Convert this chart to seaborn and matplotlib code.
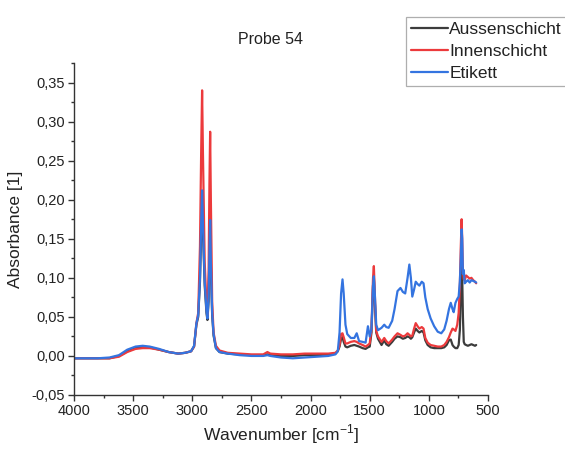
import numpy as np
import pandas as pd
import matplotlib
matplotlib.use("Agg")
import matplotlib.pyplot as plt
from matplotlib.ticker import MultipleLocator, FuncFormatter
from matplotlib.lines import Line2D
import seaborn as sns

# FTIR spectra, sample 54 (absorbance vs. wavenumber)
wavenumber = [
    4000, 3800, 3700, 3620, 3550, 3480, 3420, 3360, 3280, 3200,
    3120, 3060, 3010, 2985, 2965, 2950, 2935, 2925, 2917, 2910,
    2895, 2880, 2872, 2862, 2855, 2849, 2843, 2832, 2820, 2800,
    2770, 2700, 2600, 2500, 2400, 2365, 2340, 2250, 2150, 2050,
    1950, 1850, 1790, 1770, 1755, 1742, 1730, 1720, 1705, 1690,
    1660, 1630, 1610, 1590, 1560, 1535, 1515, 1500, 1485, 1472,
    1465, 1457, 1445, 1430, 1400, 1377, 1360, 1340, 1310, 1290,
    1265, 1240, 1220, 1200, 1180, 1165, 1152, 1140, 1125, 1111,
    1095, 1080, 1060, 1045, 1030, 1010, 985, 955, 925, 895,
    870, 850, 830, 815, 800, 790, 775, 760, 748, 738,
    730, 723, 718, 712, 705, 697, 685, 670, 655, 640,
    625, 610, 600,
]

aussenschicht = [
    -0.003, -0.003, -0.003, 0.000, 0.006, 0.010, 0.011, 0.011, 0.008, 0.005,
    0.003, 0.004, 0.006, 0.012, 0.040, 0.050, 0.095, 0.160, 0.200, 0.160,
    0.090, 0.055, 0.046, 0.070, 0.125, 0.165, 0.115, 0.052, 0.026, 0.010,
    0.005, 0.003, 0.002, 0.001, 0.001, 0.002, 0.001, 0.000, 0.000, 0.001,
    0.001, 0.002, 0.003, 0.006, 0.012, 0.022, 0.024, 0.018, 0.012, 0.011,
    0.013, 0.014, 0.013, 0.012, 0.010, 0.009, 0.011, 0.012, 0.030, 0.090,
    0.100, 0.070, 0.030, 0.022, 0.014, 0.020, 0.015, 0.013, 0.018, 0.022,
    0.025, 0.024, 0.022, 0.023, 0.025, 0.024, 0.022, 0.024, 0.030, 0.035,
    0.032, 0.030, 0.032, 0.030, 0.020, 0.014, 0.011, 0.010, 0.010, 0.010,
    0.011, 0.014, 0.020, 0.021, 0.014, 0.012, 0.010, 0.010, 0.014, 0.033,
    0.080, 0.122, 0.100, 0.050, 0.018, 0.015, 0.014, 0.013, 0.014, 0.015,
    0.014, 0.013, 0.014,
]

innenschicht = [
    -0.003, -0.003, -0.003, -0.001, 0.005, 0.009, 0.010, 0.010, 0.008, 0.005,
    0.003, 0.004, 0.006, 0.012, 0.042, 0.055, 0.140, 0.260, 0.340, 0.260,
    0.120, 0.065, 0.052, 0.110, 0.220, 0.287, 0.200, 0.070, 0.030, 0.013,
    0.007, 0.004, 0.003, 0.002, 0.002, 0.005, 0.003, 0.002, 0.002, 0.003,
    0.003, 0.003, 0.004, 0.007, 0.014, 0.028, 0.029, 0.024, 0.016, 0.016,
    0.018, 0.019, 0.018, 0.016, 0.014, 0.012, 0.014, 0.016, 0.035, 0.100,
    0.115, 0.080, 0.032, 0.025, 0.018, 0.023, 0.019, 0.016, 0.021, 0.025,
    0.029, 0.027, 0.025, 0.026, 0.029, 0.027, 0.025, 0.026, 0.035, 0.042,
    0.038, 0.035, 0.037, 0.035, 0.023, 0.017, 0.014, 0.013, 0.012, 0.012,
    0.014, 0.018, 0.024, 0.030, 0.035, 0.034, 0.032, 0.040, 0.055, 0.090,
    0.140, 0.175, 0.150, 0.110, 0.098, 0.097, 0.103, 0.101, 0.099, 0.100,
    0.097, 0.095, 0.093,
]

etikett = [
    -0.003, -0.003, -0.002, 0.001, 0.008, 0.012, 0.013, 0.012, 0.009, 0.005,
    0.003, 0.004, 0.006, 0.013, 0.042, 0.052, 0.100, 0.170, 0.212, 0.170,
    0.095, 0.058, 0.048, 0.075, 0.130, 0.174, 0.120, 0.055, 0.028, 0.010,
    0.005, 0.003, 0.001, 0.000, 0.000, 0.001, 0.000, -0.002, -0.003, -0.002,
    -0.001, 0.000, 0.002, 0.006, 0.030, 0.080, 0.098, 0.080, 0.040, 0.028,
    0.023, 0.023, 0.029, 0.019, 0.018, 0.017, 0.038, 0.025, 0.035, 0.090,
    0.102, 0.080, 0.040, 0.033, 0.036, 0.040, 0.037, 0.036, 0.045, 0.060,
    0.083, 0.087, 0.082, 0.080, 0.100, 0.117, 0.100, 0.076, 0.085, 0.095,
    0.092, 0.090, 0.095, 0.093, 0.075, 0.060, 0.048, 0.038, 0.031, 0.029,
    0.034, 0.045, 0.060, 0.068, 0.060, 0.056, 0.068, 0.073, 0.076, 0.095,
    0.125, 0.162, 0.150, 0.105, 0.110, 0.093, 0.095, 0.097, 0.094, 0.097,
    0.096, 0.095, 0.094,
]

series_names = ["Aussenschicht", "Innenschicht", "Etikett"]
series_colors = ["#3c3c3c", "#ec3a3c", "#3474e0"]

df = pd.concat(
    [
        pd.DataFrame({"Wavenumber": wavenumber, "Absorbance": vals, "Probe": name})
        for name, vals in zip(series_names, [aussenschicht, innenschicht, etikett])
    ],
    ignore_index=True,
)

sns.set_style("ticks")
plt.rcParams["font.family"] = ["Liberation Sans", "DejaVu Sans"]
plt.rcParams["mathtext.fontset"] = "custom"
plt.rcParams["mathtext.rm"] = "Liberation Sans"

fig = plt.figure(figsize=(5.65, 4.5), dpi=100)
ax = fig.add_axes([74 / 565, 1 - 395 / 450, (488 - 74) / 565, (395 - 63) / 450])

palette = dict(zip(series_names, series_colors))
sns.lineplot(
    data=df, x="Wavenumber", y="Absorbance", hue="Probe", hue_order=series_names,
    palette=palette, sort=False, estimator=None, linewidth=1.6, ax=ax, legend=False,
)

ax.set_xlim(4000, 500)
ax.set_ylim(-0.05, 0.375)
ax.xaxis.set_major_locator(MultipleLocator(500))
ax.xaxis.set_minor_locator(MultipleLocator(250))
ax.yaxis.set_major_locator(MultipleLocator(0.05))
ax.yaxis.set_minor_locator(MultipleLocator(0.025))
ax.yaxis.set_major_formatter(FuncFormatter(lambda v, p: f"{v:.2f}".replace(".", ",")))
ax.xaxis.set_major_formatter(FuncFormatter(lambda v, p: f"{v:.0f}"))

sns.despine(ax=ax)
for sp in ("left", "bottom"):
    ax.spines[sp].set_color("#333333")
    ax.spines[sp].set_linewidth(1.0)
ax.tick_params(which="major", direction="out", length=4, width=1.0, color="#333333",
               labelsize=10.5, labelcolor="#222222", pad=2.5)
ax.tick_params(which="minor", direction="out", length=2.5, width=1.0, color="#333333")

ax.set_xlabel("Wavenumber [cm$^{-1}$]", fontsize=12.5, color="#222222", labelpad=3)
ax.set_ylabel("Absorbance [1]", fontsize=12.5, color="#222222", labelpad=6)
fig.text(270 / 565, 1 - 40 / 450, "Probe 54", ha="center", va="center",
         fontsize=11.5, color="#222222")

handles = [Line2D([], [], color=c, lw=1.6) for c in series_colors]
leg = fig.legend(
    handles, series_names, loc="upper left", bbox_to_anchor=(406 / 565, 1 - 17 / 450),
    bbox_transform=fig.transFigure, frameon=True, fancybox=False, fontsize=12.5,
    handlelength=2.1, handletextpad=0.1, labelspacing=0.38, borderpad=0.3,
    borderaxespad=0,
)
leg.get_frame().set_edgecolor("#9a9a9a")
leg.get_frame().set_linewidth(0.9)
for t in leg.get_texts():
    t.set_color("#222222")

fig.savefig("out.png", dpi=100)
